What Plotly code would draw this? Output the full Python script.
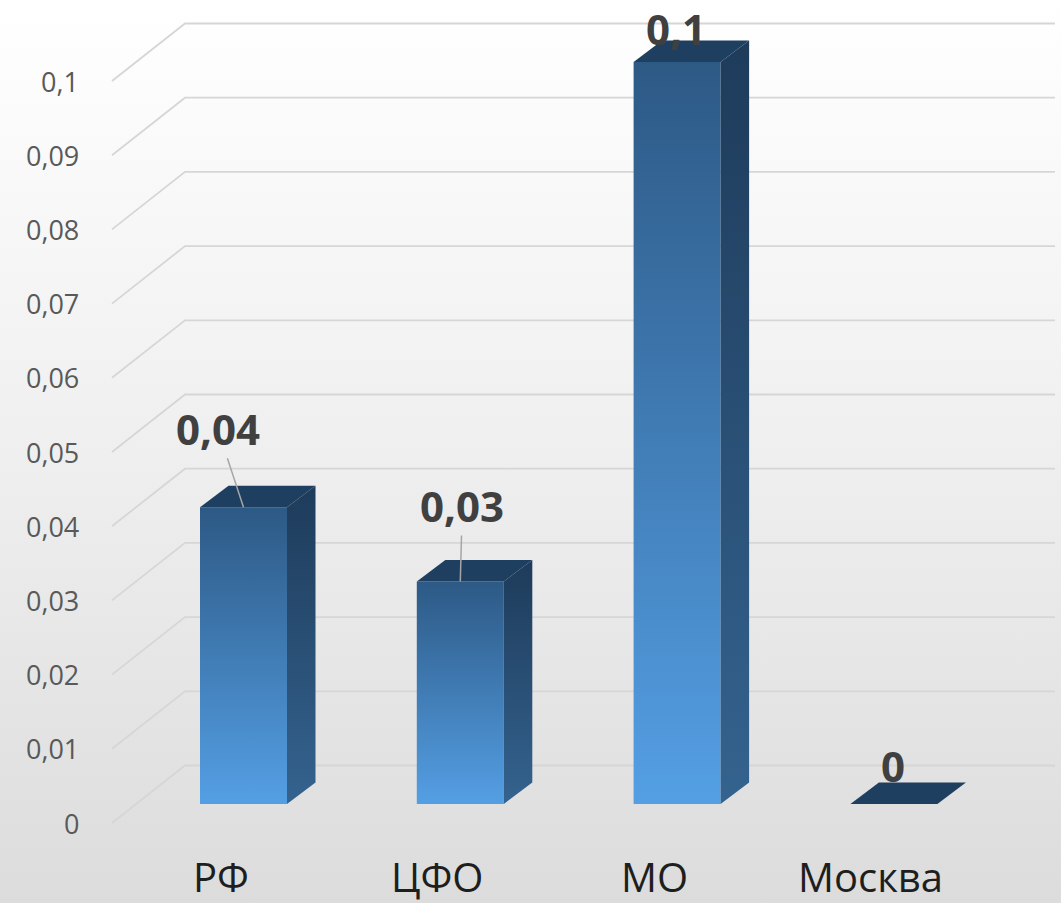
import plotly.graph_objects as go

# ---- data ----
categories = ["РФ", "ЦФО", "МО", "Москва"]
values = [0.04, 0.03, 0.1, 0]
value_labels = ["0,04", "0,03", "0,1", "0"]
tick_values = [0, 0.01, 0.02, 0.03, 0.04, 0.05, 0.06, 0.07, 0.08, 0.09, 0.1]
tick_labels = ["0", "0,01", "0,02", "0,03", "0,04", "0,05", "0,06", "0,07", "0,08", "0,09", "0,1"]

# ---- projection / style constants (pixels converted to axis units) ----
W_PX, H_PX = 1061, 903
PX_X = 216.8           # px per category
PX_Y = 7420.0          # px per value unit
X0_PX = 243.5          # px of first bar center (front plane)
Y0_PX = 804.0          # px of value 0 on bar front plane


def ux(px):
    return px / PX_X


def uy(px):
    return px / PX_Y


BAR_W = ux(87)
DX, DY = ux(28.5), uy(21.5)          # bar depth
WALL_DY = uy(38.5)                   # back wall offset
WALL_X0, WALL_X1 = ux(185 - X0_PX), ux(1055 - X0_PX)
FRONT_X0 = ux(112 - X0_PX)
LBL_DY = uy(19)                      # front (label) plane offset

x_range = [ux(-X0_PX), ux(W_PX - X0_PX)]
y_range = [uy(Y0_PX - H_PX), uy(Y0_PX)]

FRONT_CS = [[0, "#549fe4"], [1, "#2d5985"]]
SIDE_CS = [[0, "#34638f"], [1, "#1e3b5a"]]
TOP_COLOR = "#1f3f61"

fig = go.Figure()

# background gradient
fig.add_trace(go.Scatter(
    x=[x_range[0], x_range[1], x_range[1], x_range[0], x_range[0]],
    y=[y_range[0], y_range[0], y_range[1], y_range[1], y_range[0]],
    mode="lines", line=dict(width=0), fill="toself",
    fillgradient=dict(type="vertical",
                      colorscale=[[0, "#dcdcdc"], [0.5, "#efefef"], [1, "#ffffff"]]),
    hoverinfo="skip", showlegend=False))

# gridlines (back wall + left wall diagonals)
gx, gy = [], []
for t in tick_values:
    gx += [FRONT_X0, WALL_X0, WALL_X1, None]
    gy += [t - LBL_DY, t + WALL_DY, t + WALL_DY, None]
fig.add_trace(go.Scatter(x=gx, y=gy, mode="lines",
                         line=dict(color="#d6d6d6", width=1.8),
                         hoverinfo="skip", showlegend=False))

# bars
for i, v in enumerate(values):
    l, r = i - BAR_W / 2, i + BAR_W / 2
    if v > 0:
        fig.add_trace(go.Scatter(
            x=[l, r, r, l, l], y=[0, 0, v, v, 0], mode="lines",
            line=dict(width=0), fill="toself",
            fillgradient=dict(type="vertical", colorscale=FRONT_CS),
            hoverinfo="skip", showlegend=False))
        fig.add_trace(go.Scatter(
            x=[r, r + DX, r + DX, r, r], y=[0, DY, v + DY, v, 0], mode="lines",
            line=dict(width=0), fill="toself",
            fillgradient=dict(type="vertical", colorscale=SIDE_CS),
            hoverinfo="skip", showlegend=False))
    fig.add_trace(go.Scatter(
        x=[l, r, r + DX, l + DX, l], y=[v, v, v + DY, v + DY, v], mode="lines",
        line=dict(width=0), fill="toself", fillcolor=TOP_COLOR,
        hoverinfo="skip", showlegend=False))

annotations = []
# tick labels
for t, lab in zip(tick_values, tick_labels):
    annotations.append(dict(x=ux(81 - X0_PX), y=t - LBL_DY, text=lab, showarrow=False,
                            xanchor="right", yanchor="middle",
                            font=dict(family="Open Sans", size=27, color="#595959")))
# category labels
for i, c in enumerate(categories):
    annotations.append(dict(x=i - ux(23), y=-LBL_DY - uy(53), text=c, showarrow=False,
                            xanchor="center", yanchor="middle",
                            font=dict(family="Open Sans", size=40, color="#1e1e1e")))
# data labels (pixel offsets, leader flag)
label_offsets = [(-26, -79, True), (2, -76, True), (-1.5, -34, False), (-1, -39, False)]
for i, (v, lab) in enumerate(zip(values, value_labels)):
    ox, oy, leader = label_offsets[i]
    f = dict(family="Open Sans", size=42, color="#404040", weight="bold")
    if leader:
        annotations.append(dict(x=i, y=v, text=lab, showarrow=True, ax=ox, ay=oy,
                                arrowhead=0, arrowwidth=1.5, arrowcolor="#a6a6a6",
                                standoff=0, font=f))
    else:
        annotations.append(dict(x=i, y=v, text=lab, showarrow=False,
                                xshift=ox, yshift=-oy, font=f))

fig.update_layout(
    width=W_PX, height=H_PX, margin=dict(l=0, r=0, t=0, b=0),
    paper_bgcolor="#ffffff", plot_bgcolor="#ffffff",
    xaxis=dict(range=x_range, visible=False, fixedrange=True),
    yaxis=dict(range=y_range, visible=False, fixedrange=True),
    annotations=annotations, hovermode=False, showlegend=False)

fig.write_html("out.html", config={"displayModeBar": False})
